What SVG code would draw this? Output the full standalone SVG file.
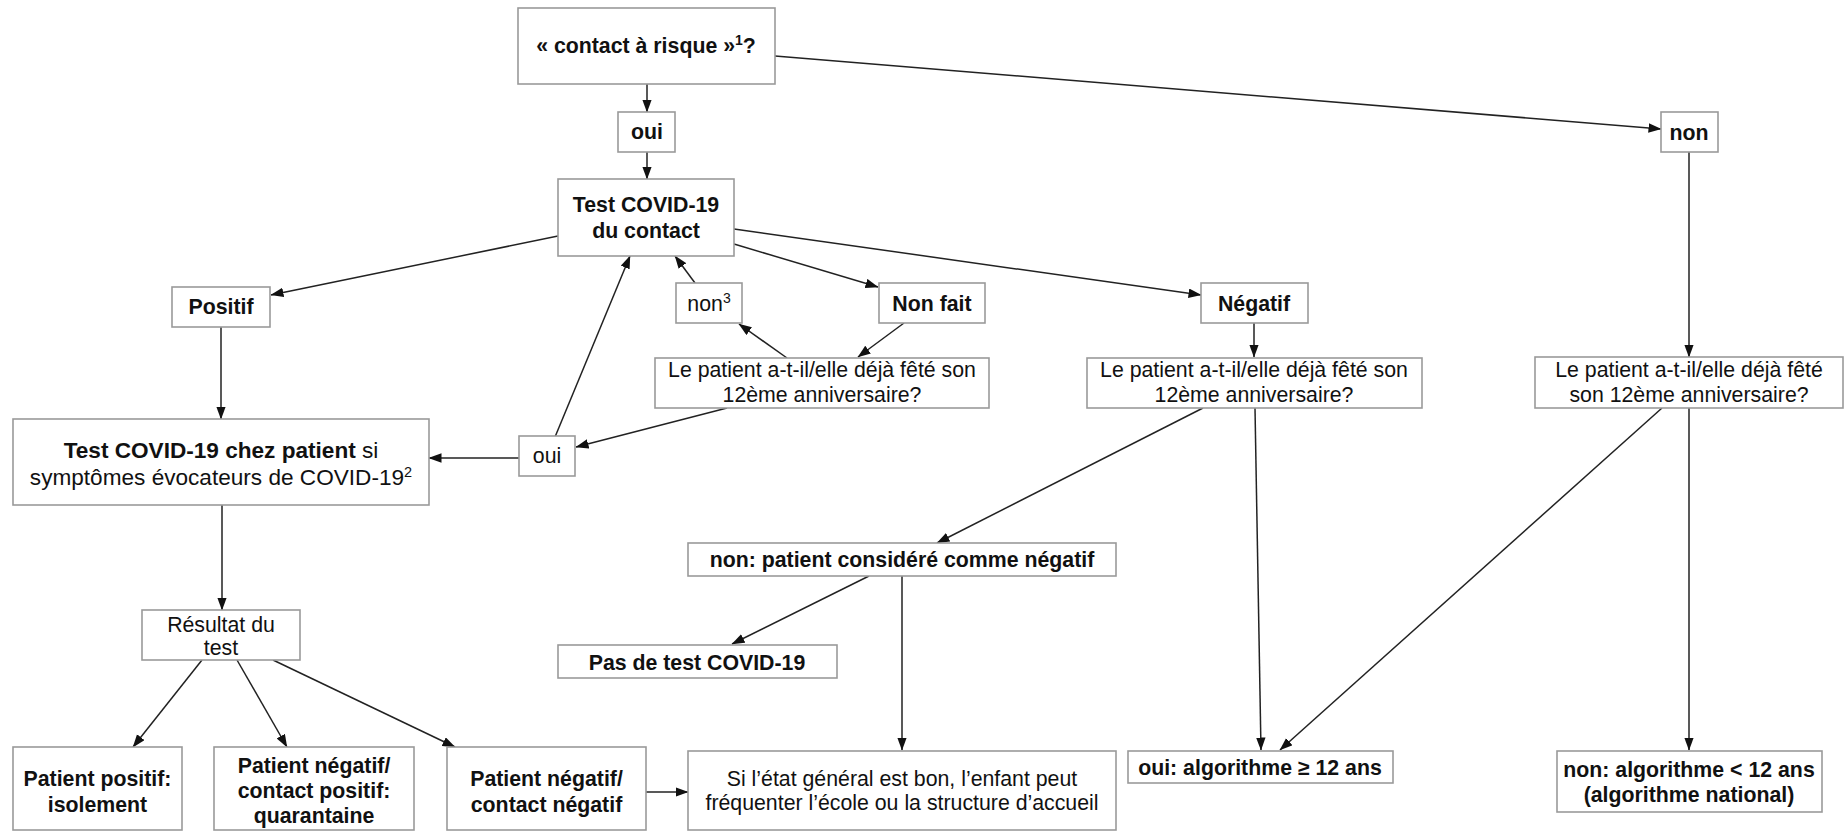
<svg xmlns="http://www.w3.org/2000/svg" width="1845" height="831" viewBox="0 0 1845 831">
<style>
.box{fill:#fff;stroke:#9a9a9a;stroke-width:1.6}
.t{font-family:"Liberation Sans",Arial,Helvetica,sans-serif;font-size:21.3px;fill:#111;text-anchor:middle}
.b{font-weight:bold}
.lg{font-size:22.6px}
.c{fill:none;stroke:#222;stroke-width:1.5;marker-end:url(#ah)}
</style>
<defs>
<marker id="ah" markerUnits="userSpaceOnUse" markerWidth="13" markerHeight="10" refX="12.5" refY="4.75" orient="auto">
<path d="M0,0 L13,4.75 L0,9.5 z" fill="#111"/>
</marker>
</defs>
<rect width="1845" height="831" fill="#fff"/>
<g id="connectors">
<line class="c" x1="647" y1="84" x2="647" y2="112"/>
<line class="c" x1="647" y1="152" x2="647" y2="179"/>
<line class="c" x1="775" y1="56" x2="1661" y2="129"/>
<line class="c" x1="1689" y1="152" x2="1689" y2="357"/>
<line class="c" x1="558" y1="236" x2="271" y2="295"/>
<line class="c" x1="734" y1="244" x2="878" y2="287"/>
<line class="c" x1="734" y1="229" x2="1201" y2="295"/>
<line class="c" x1="695" y1="283" x2="675" y2="256"/>
<line class="c" x1="555" y1="437" x2="630" y2="256"/>
<line class="c" x1="787" y1="358" x2="739" y2="324"/>
<line class="c" x1="904" y1="323" x2="858" y2="357"/>
<line class="c" x1="727" y1="408" x2="576" y2="447"/>
<line class="c" x1="519" y1="458" x2="429" y2="458"/>
<line class="c" x1="221" y1="327" x2="221" y2="419"/>
<line class="c" x1="1254" y1="323" x2="1254" y2="357"/>
<line class="c" x1="1203" y1="408" x2="937" y2="543"/>
<line class="c" x1="1255" y1="408" x2="1261" y2="750"/>
<line class="c" x1="1662" y1="408" x2="1280" y2="750"/>
<line class="c" x1="1689" y1="408" x2="1689" y2="750"/>
<line class="c" x1="222" y1="505" x2="222" y2="610"/>
<line class="c" x1="202" y1="660" x2="133" y2="747"/>
<line class="c" x1="237" y1="660" x2="287" y2="747"/>
<line class="c" x1="273" y1="660" x2="455" y2="747"/>
<line class="c" x1="869" y1="576" x2="732" y2="644"/>
<line class="c" x1="902" y1="576" x2="902" y2="750"/>
<line class="c" x1="646" y1="792" x2="688" y2="792"/>
</g>
<g id="n-contact">
<rect class="box" x="518" y="8" width="257" height="76"/>
<text class="t b" x="646" y="53">« contact à risque »<tspan font-size="14" dy="-8">1</tspan><tspan dy="8">?</tspan></text>
</g>
<g id="n-oui1">
<rect class="box" x="618" y="112" width="57" height="40"/>
<text class="t b" x="647" y="139">oui</text>
</g>
<g id="n-test">
<rect class="box" x="558" y="179" width="176" height="77"/>
<text class="t b" x="646" y="212">Test COVID-19</text>
<text class="t b" x="646" y="238">du contact</text>
</g>
<g id="n-non">
<rect class="box" x="1661" y="112" width="57" height="40"/>
<text class="t b" x="1689" y="140">non</text>
</g>
<g id="n-positif">
<rect class="box" x="172" y="287" width="98" height="40"/>
<text class="t b" x="221" y="314">Positif</text>
</g>
<g id="n-non3">
<rect class="box" x="676" y="283" width="66" height="40"/>
<text class="t" x="709" y="311">non<tspan font-size="14" dy="-8">3</tspan></text>
</g>
<g id="n-nonfait">
<rect class="box" x="879" y="283" width="106" height="40"/>
<text class="t b" x="932" y="311">Non fait</text>
</g>
<g id="n-negatif">
<rect class="box" x="1201" y="283" width="107" height="40"/>
<text class="t b" x="1254" y="311">Négatif</text>
</g>
<g id="n-q12a">
<rect class="box" x="655" y="358" width="334" height="50"/>
<text class="t" x="822" y="377">Le patient a-t-il/elle déjà fêté son</text>
<text class="t" x="822" y="402">12ème anniversaire?</text>
</g>
<g id="n-q12b">
<rect class="box" x="1087" y="358" width="335" height="50"/>
<text class="t" x="1254" y="377">Le patient a-t-il/elle déjà fêté son</text>
<text class="t" x="1254" y="402">12ème anniversaire?</text>
</g>
<g id="n-q12c">
<rect class="box" x="1535" y="357" width="308" height="51"/>
<text class="t" x="1689" y="377">Le patient a-t-il/elle déjà fêté</text>
<text class="t" x="1689" y="402">son 12ème anniversaire?</text>
</g>
<g id="n-chez">
<rect class="box" x="13" y="419" width="416" height="86"/>
<text class="t lg" x="221" y="458"><tspan font-weight="bold">Test COVID-19 chez patient</tspan> si</text>
<text class="t lg" x="221" y="485">symptômes évocateurs de COVID-19<tspan font-size="14.5" dy="-8">2</tspan></text>
</g>
<g id="n-oui2">
<rect class="box" x="519" y="436" width="56" height="40"/>
<text class="t" x="547" y="463">oui</text>
</g>
<g id="n-nonpatient">
<rect class="box" x="688" y="543" width="428" height="33"/>
<text class="t b" x="902" y="567">non: patient considéré comme négatif</text>
</g>
<g id="n-pasdetest">
<rect class="box" x="558" y="645" width="279" height="33"/>
<text class="t b" x="697" y="670">Pas de test COVID-19</text>
</g>
<g id="n-resultat">
<rect class="box" x="142" y="610" width="158" height="50"/>
<text class="t" x="221" y="632">Résultat du</text>
<text class="t" x="221" y="655">test</text>
</g>
<g id="n-ppos">
<rect class="box" x="13" y="747" width="169" height="83"/>
<text class="t b" x="97.5" y="786">Patient positif:</text>
<text class="t b" x="97.5" y="812">isolement</text>
</g>
<g id="n-pnegcpos">
<rect class="box" x="214" y="747" width="200" height="83"/>
<text class="t b" x="314" y="773">Patient négatif/</text>
<text class="t b" x="314" y="798">contact positif:</text>
<text class="t b" x="314" y="823">quarantaine</text>
</g>
<g id="n-pnegcneg">
<rect class="box" x="447" y="747" width="199" height="83"/>
<text class="t b" x="546.5" y="786">Patient négatif/</text>
<text class="t b" x="546.5" y="812">contact négatif</text>
</g>
<g id="n-si">
<rect class="box" x="688" y="751" width="428" height="79"/>
<text class="t" x="902" y="786">Si l’état général est bon, l’enfant peut</text>
<text class="t" x="902" y="810">fréquenter l’école ou la structure d’accueil</text>
</g>
<g id="n-ouialgo">
<rect class="box" x="1128" y="751" width="265" height="32"/>
<text class="t b" x="1260" y="775">oui: algorithme ≥ 12 ans</text>
</g>
<g id="n-nonalgo">
<rect class="box" x="1557" y="751" width="265" height="61"/>
<text class="t b" x="1689" y="777">non: algorithme &lt; 12 ans</text>
<text class="t b" x="1689" y="802">(algorithme national)</text>
</g>
</svg>
